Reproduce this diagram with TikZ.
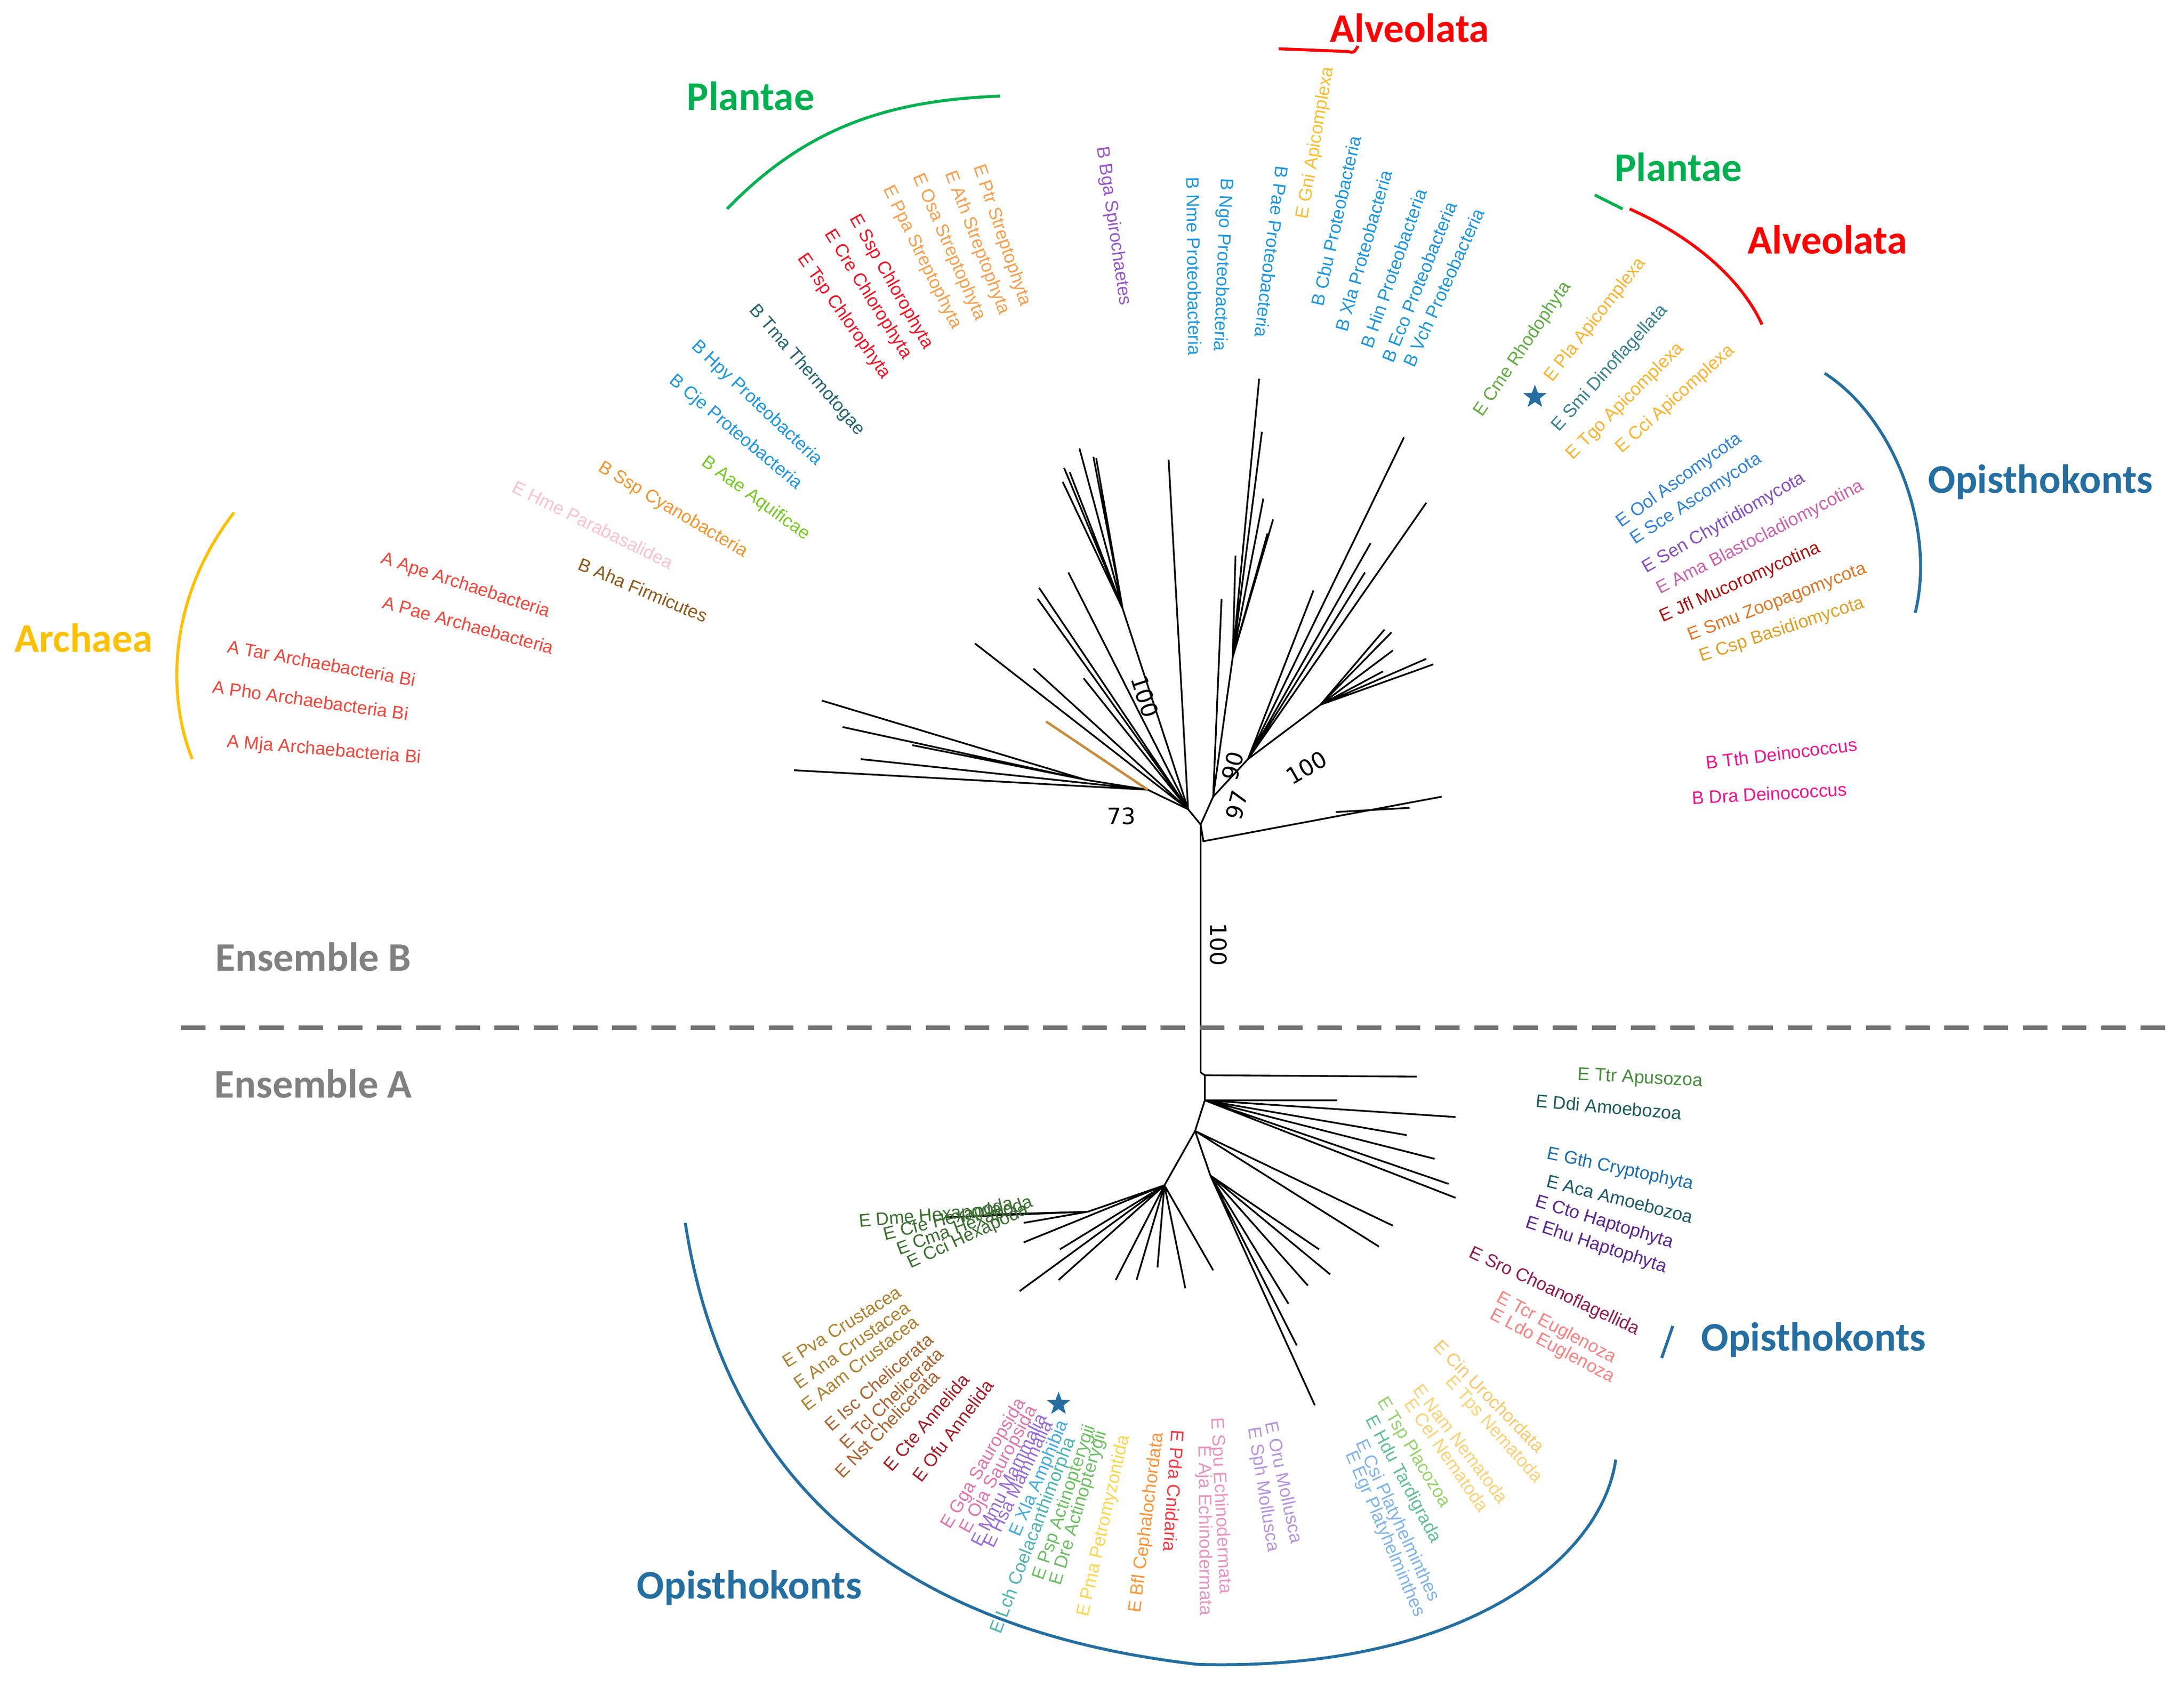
\documentclass[tikz,border=0pt]{standalone}
\usepackage{fontspec}
\setmainfont{Liberation Sans}
\newfontfamily\grp{Carlito}
\newfontfamily\num{DejaVu Sans}
\usetikzlibrary{shapes.geometric}
\newcounter{lab}
\begin{document}
\begin{tikzpicture}[x=0.01cm,y=-0.01cm,
 lab/.style={font=\fontsize{3.7}{4}\selectfont,inner sep=0.6pt},
 grpl/.style={font=\grp\bfseries\fontsize{8.3}{9}\selectfont,inner sep=0pt},
 ens/.style={grpl,text=black!50},
 br/.style={line width=0.35pt,black},
 brk/.style={line width=0.6pt},
 bs/.style={font=\num\fontsize{4.6}{5}\selectfont,inner sep=0pt},
 bstar/.style={shape=star,star points=5,star point ratio=2.4,fill=cB,draw=none,minimum size=5pt,inner sep=0pt}]
\definecolor{cB}{RGB}{36,110,160}
\definecolor{orb}{RGB}{200,140,60}
\useasboundingbox (0,0) rectangle (1568,1211);
\newcommand\lab[5][]{%
 \stepcounter{lab}%
 \definecolor{tc}{RGB}{#4}%
 \ifx\relax#1\relax\pgfmathsetmacro\ang{atan2(\cy-#3,#2-\cx)}\else\pgfmathsetmacro\ang{#1}\fi
 \pgfmathtruncatemacro\rt{((\ang>\lo)&&(\ang<\hi))?1:0}%
 \ifnum\rt=1 \node[lab,text=tc,anchor=west,rotate=\ang] (t\thelab) at (#2,#3) {#5};%
 \else\pgfmathsetmacro\angb{\ang+180}\node[lab,text=tc,anchor=east,rotate=\angb] (t\thelab) at (#2,#3) {#5};\fi}
% ---------------- upper tree
\def\cx{862}\def\cy{592}\def\lo{-90}\def\hi{81.5}
\coordinate (C) at (862,592);
\coordinate (L) at (853,581);
\coordinate (R) at (871,572);
\coordinate (R2) at (896,545);
\coordinate (R3) at (885,472);
\coordinate (R4) at (948,506);
\coordinate (Dn) at (864,604);
\coordinate (Dn2) at (959,583);
\coordinate (L2) at (806,437);
\coordinate (L3) at (824,567);
\coordinate (Lw) at (780,560);
\coordinate (Bot) at (862,770);
\draw[br] (C) -- (L) (C) -- (R) (R) -- (R2) (C) -- (Bot);
\draw[br] (R) -- (R3) -- (904,272) (R3) -- (906,310) (R3)--(907,358) (R3)--(914,373) (R3)--(910,383) (R3)--(887,399) (R)--(877,430);
\draw[br] (R2) -- (R4) (R4)--(994,452) (R4)--(999,454) (R4)--(1000,467) (R4)--(1024,473) (R4)--(1029,477) (R4)--(993,482);
\draw[br] (R2)--(943,424) (R2)--(1008,314) (R2)--(1024,361) (R2)--(984,390) (R2)--(980,411);
\draw[br] (C) -- (Dn) -- (1035,572) (Dn2)--(1012,580);
\draw[br] (L) -- (839,330) (L) -- (L2) (L2)--(775,322) (L2)--(764,336) (L2)--(763,346) (L2)--(785,328) (L2)--(787,329) (L2)--(768,339);
\draw[br] (L)--(767,411) (L)--(746,422) (L)--(745,430) (L)--(742,480) (L)--(778,487) (L)--(700,462);
\draw[br] (L)--(L3) (L3)--(Lw) (Lw)--(590,503) (Lw)--(605,522) (L3)--(570,553) (L3)--(618,545) (Lw)--(655,535);
\draw[line width=0.5pt,orb] (751,518) -- (L3);
\node[bs,rotate=-72] (b1) at (822,500) {100};
\node[bs,rotate=75] (b2) at (885,550) {90};
\node[bs,rotate=30] (b3) at (938,551) {100};
\node[bs,rotate=75] (b4) at (888,578) {97};
\node[bs] (b5) at (805,586) {73};
\node[bs,rotate=-90] (b6) at (875,678) {100};
% upper labels
\lab{305}{545}{240,70,60}{A Mja Archaebacteria Bi}
\lab{296}{513}{240,70,60}{A Pho Archaebacteria Bi}
\lab{301}{489}{240,70,60}{A Tar Archaebacteria Bi}
\lab{400}{466}{240,70,60}{A Pae Archaebacteria}
\lab{397}{441}{240,70,60}{A Ape Archaebacteria}
\lab{485}{406}{250,195,205}{E Hme Parabasalidea}
\lab{510}{444}{140,90,30}{B Aha Firmicutes}
\lab{538}{399}{240,150,50}{B Ssp Cyanobacteria}
\lab{582}{387}{120,200,40}{B Aae Aquificae}
\lab{576}{351}{30,150,220}{B Cje Proteobacteria}
\lab{590}{334}{30,150,220}{B Hpy Proteobacteria}
\lab{620}{313}{40,100,110}{B Tma Thermotogae}
\lab{638}{273}{240,20,40}{E Tsp Chlorophyta}
\lab{653}{259}{240,20,40}{E Cre Chlorophyta}
\lab{668}{252}{240,20,40}{E Ssp Chlorophyta}
\lab{688}{238}{245,160,80}{E Ppa Streptophyta}
\lab{705}{232}{245,160,80}{E Osa Streptophyta}
\lab{722}{228}{245,160,80}{E Ath Streptophyta}
\lab{737}{222}{245,160,80}{E Ptr Streptophyta}
\lab{808}{222}{150,90,200}{B Bga Spirochaetes}
\lab{858}{258}{30,150,220}{B Nme Proteobacteria}
\lab{875}{255}{30,150,220}{B Ngo Proteobacteria}
\lab{905}{245}{30,150,220}{B Pae Proteobacteria}
\lab{935}{160}{250,190,50}{E Gni Apicomplexa}
\lab{945}{222}{30,150,220}{B Cbu Proteobacteria}
\lab{962}{240}{30,150,220}{B Xla Proteobacteria}
\lab{980}{252}{30,150,220}{B Hin Proteobacteria}
\lab{995}{262}{30,150,220}{B Eco Proteobacteria}
\lab{1010}{265}{30,150,220}{B Vch Proteobacteria}
\lab{1060}{300}{100,170,70}{E Cme Rhodophyta}
\lab{1110}{275}{250,180,50}{E Pla Apicomplexa}
\lab{1115}{310}{60,130,140}{E Smi Dinoflagellata}
\lab{1125}{330}{250,180,50}{E Tgo Apicomplexa}
\lab{1160}{325}{250,180,50}{E Cci Apicomplexa}
\lab{1160}{378}{50,130,210}{E Ool Ascomycota}
\lab{1170}{390}{50,130,210}{E Sce Ascomycota}
\lab{1178}{410}{130,80,190}{E Sen Chytridiomycota}
\lab{1188}{425}{200,100,170}{E Ama Blastocladiomycotina}
\lab{1190}{445}{170,20,20}{E Jfl Mucoromycotina}
\lab{1210}{458}{220,120,40}{E Smu Zoopagomycota}
\lab{1218}{473}{220,160,40}{E Csp Basidiomycota}
\lab{1222}{548}{240,20,140}{B Tth Deinococcus}
\lab{1212}{573}{240,20,140}{B Dra Deinococcus}
\node[bstar] (s1) at (1102,285) {};
% ---------------- lower tree
\def\cx{862}\def\cy{790}\def\lo{-95.5}\def\hi{90}
\coordinate (D1) at (865,772);
\coordinate (D2) at (865,790);
\coordinate (D3) at (858,812);
\coordinate (DL) at (836,851);
\coordinate (DL2) at (781,870);
\coordinate (DR) at (869,844);
\draw[br] (Bot) -- (D1) -- (D2) -- (D3) -- (DL);
\draw[br] (D1)--(1017,773) (D2)--(960,790) (D2)--(1045,802) (D2)--(1045,860) (D2)--(1040,850) (D2)--(1030,832) (D2)--(1010,815) (D3)--(1000,880) (D3)--(990,895) (D3)--(DR);
\draw[br] (DL)--(DL2)--(679,874) (DL2)--(712,872) (DL2)--(735,878) (DL)--(735,892) (DL)--(761,897) (DL)--(732,927) (DL)--(760,919) (DL)--(801,919) (DL)--(816,919) (DL)--(831,910) (DL)--(851,925) (DL)--(871,912);
\draw[br] (DR)--(944,1009) (DR)--(931,966) (DR)--(925,936) (DR)--(947,897) (DR)--(939,923) (DR)--(955,915);
% lower labels
\lab[5]{614}{878}{60,110,50}{E Dme Hexapoda}
\lab[14]{632}{888}{60,110,50}{E Cfe Hexapoda}
\lab[20]{642}{899}{60,110,50}{E Cma Hexapoda}
\lab[25]{650}{909}{60,110,50}{E Cci Hexapoda}
\lab{648}{925}{170,130,50}{E Pva Crustacea}
\lab{654}{936}{170,130,50}{E Ana Crustacea}
\lab{660}{946}{170,130,50}{E Aam Crustacea}
\lab{670}{958}{170,100,50}{E Isc Chelicerata}
\lab{677}{968}{170,100,50}{E Tcl Chelicerata}
\lab{674}{984}{170,100,50}{E Nst Chelicerata}
\lab{695}{986}{160,30,40}{E Cte Annelida}
\lab{712}{990}{160,30,40}{E Ofu Annelida}
\lab{735}{1003}{220,120,170}{E Gga Sauropsida}
\lab{743}{1008}{220,120,170}{E Oja Sauropsida}
\lab{749}{1013}{150,110,210}{E Mmu Mammalia}
\lab{753}{1018}{150,110,210}{E Hsa Mammalia}
\lab{765}{1018}{70,170,220}{E Xla Amphibia}
\lab{770}{1030}{80,180,170}{E Lch Coelacanthimorpha}
\lab{784}{1021}{110,190,100}{E Psp Actinopterygii}
\lab{792}{1025}{110,190,100}{E Dre Actinopterygii}
\lab{808}{1028}{250,215,80}{E Pma Petromyzontida}
\lab{832}{1026}{250,150,60}{E Bfl Cephalochordata}
\lab{846}{1024}{240,60,70}{E Pda Cnidaria}
\lab{873}{1015}{230,150,190}{E Spu Echinodermata}
\lab{864}{1035}{230,150,190}{E Aja Echinodermata}
\lab{912}{1018}{180,150,220}{E Oru Mollusca}
\lab{899}{1022}{180,150,220}{E Sph Mollusca}
\lab{968}{1040}{130,180,230}{E Egr Platyhelminthes}
\lab{975}{1032}{130,180,230}{E Csi Platyhelminthes}
\lab{982}{1015}{100,190,150}{E Hdu Tardigrada}
\lab{990}{1002}{150,210,110}{E Tsp Placozoa}
\lab{1010}{1003}{250,210,120}{E Cel Nematoda}
\lab{1016}{993}{250,210,120}{E Nam Nematoda}
\lab{1038}{988}{250,210,120}{E Tps Nematoda}
\lab{1030}{962}{250,200,110}{E Cin Urochordata}
\lab[-28]{1068}{942}{250,130,130}{E Ldo Euglenoza}
\lab[-28]{1073}{930}{250,130,130}{E Tcr Euglenoza}
\lab[-25]{1053}{898}{140,30,80}{E Sro Choanoflagellida}
\lab[-18]{1093}{877}{90,40,140}{E Ehu Haptophyta}
\lab[-17]{1100}{862}{90,40,140}{E Cto Haptophyta}
\lab[-14]{1108}{847}{30,90,100}{E Aca Amoebozoa}
\lab[-12]{1108}{828}{30,110,170}{E Gth Cryptophyta}
\lab[-5]{1100}{790}{30,90,90}{E Ddi Amoebozoa}
\lab[-3]{1130}{772}{70,140,60}{E Ttr Apusozoa}
\node[bstar] (s2) at (760,1008) {};
% ---------------- groups
\definecolor{gP}{RGB}{0,176,80}
\definecolor{gA}{RGB}{255,0,0}
\definecolor{gY}{RGB}{255,192,0}
\node[grpl,text=gP] (g1) at (539,69) {Plantae};
\draw[brk,gP] (522,150) .. controls (580,90) and (640,72) .. (718,69);
\node[grpl,text=gA] (g2) at (1012,20) {Alveolata};
\draw[brk,gA] (918,35) -- (968,37) .. controls (972,38) .. (975,33);
\node[grpl,text=gP] (g3) at (1205,120) {Plantae};
\draw[brk,gP] (1145,140) -- (1165,150);
\node[grpl,text=gA] (g4) at (1312,172) {Alveolata};
\draw[brk,gA] (1170,150) .. controls (1215,170) and (1250,200) .. (1265,233);
\node[grpl,text=cB] (g5) at (1465,346) {Opisthokonts};
\draw[brk,cB] (1310,268) .. controls (1360,300) and (1390,380) .. (1375,440);
\node[grpl,text=gY] (g6) at (60,458) {Archaea};
\draw[brk,gY] (168,368) .. controls (120,430) and (120,500) .. (138,545);
\node[ens] (e1) at (225,687) {Ensemble B};
\node[ens] (e2) at (225,778) {Ensemble A};
\coordinate (dl) at (130,738); \coordinate (dr) at (1560,738);
\draw[black!55,line width=1pt,dash pattern=on 5pt off 3pt] (dl) -- (dr);
\node[grpl,text=cB] (g7) at (1302,962) {Opisthokonts};
\draw[brk,cB] (1193,975) -- (1201,952);
\node[grpl,text=cB] (g8) at (538,1140) {Opisthokonts};
\draw[brk,cB] (492,878) .. controls (520,1060) and (640,1170) .. (860,1195) .. controls (1050,1200) and (1150,1120) .. (1160,1048);
\end{tikzpicture}
\end{document}
